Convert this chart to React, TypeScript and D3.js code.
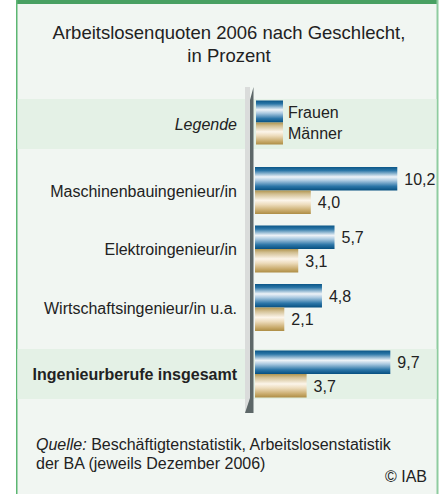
import React, { useEffect, useRef } from 'react'
import * as d3 from 'd3'

const categories = [
  'Maschinenbauingenieur/in',
  'Elektroingenieur/in',
  'Wirtschaftsingenieur/in u.a.',
  'Ingenieurberufe insgesamt',
]
const frauen = [10.2, 5.7, 4.8, 9.7]
const maenner = [4.0, 3.1, 2.1, 3.7]
const seriesNames = ['Frauen', 'Männer']
const legendLabel = 'Legende'
const titleLines = ['Arbeitslosenquoten 2006 nach Geschlecht,', 'in Prozent']

const W = 446
const H = 494
const FONT = '"Liberation Sans", Arial, sans-serif'

export default function App() {
  const ref = useRef<SVGSVGElement>(null)

  useEffect(() => {
    const svg = d3.select(ref.current)
    svg.selectAll('*').remove()

    const rows = [legendLabel, ...categories]
    const total = categories[categories.length - 1]
    const yb = d3.scaleBand<string>().domain(rows).range([108.5, 389.5]).paddingInner(11.5 / 58.5)
    // highlighted rows sit a bit further out
    const rowY = (d: string) => (yb(d) as number) + (d === legendLabel ? -8 : d === total ? 8 : 0)
    const x = d3.scaleLinear().domain([0, 10]).range([255, 394.5])
    const bw = yb.bandwidth()
    const bh = bw / 2

    const defs = svg.append('defs')
    const grads = [
      ['gFrauen', [[0, '#0b5687'], [0.15, '#2b76a7'], [0.42, '#eef3f8'], [0.58, '#a9c8e0'], [0.82, '#2c76a8'], [1, '#064f80']]],
      ['gMaenner', [[0, '#b09550'], [0.15, '#d2bf92'], [0.42, '#fcf5ea'], [0.6, '#eddcbc'], [0.85, '#c9ab6c'], [1, '#ad8d45']]],
    ] as [string, [number, string][]][]
    grads.forEach(([id, stops]) => {
      const g = defs.append('linearGradient').attr('id', id).attr('x1', 0).attr('x2', 0).attr('y1', 0).attr('y2', 1)
      stops.forEach(([o, c]) => g.append('stop').attr('offset', o).attr('stop-color', c))
    })
    const fills = ['url(#gFrauen)', 'url(#gMaenner)']

    // panel
    svg.append('rect').attr('width', W).attr('height', H).attr('fill', '#ffffff')
    svg.append('rect').attr('x', 16).attr('y', 0).attr('width', 422).attr('height', H).attr('fill', '#f1f6f2')
    svg.append('rect').attr('x', 16).attr('y', 0).attr('width', 422).attr('height', 4).attr('fill', '#48a062')
    svg.append('rect').attr('x', 16).attr('y', 0).attr('width', 1.5).attr('height', H).attr('fill', '#5cb672')
    svg.append('rect').attr('x', 436.5).attr('y', 0).attr('width', 2).attr('height', H).attr('fill', '#8fcca0')

    // highlighted rows
    svg.selectAll('rect.hl').data([legendLabel, total]).enter().append('rect')
      .attr('class', 'hl')
      .attr('x', 17.5).attr('width', 419)
      .attr('y', d => rowY(d) + bw / 2 - 25)
      .attr('height', 50)
      .attr('fill', '#e4f1e6')

    // title
    svg.append('text')
      .attr('x', 228).attr('y', 39)
      .attr('text-anchor', 'middle')
      .style('font-family', FONT).style('font-size', '18.5px').attr('fill', '#222')
      .selectAll('tspan').data(titleLines).enter().append('tspan')
      .attr('x', 229).attr('dy', (d, i) => (i === 0 ? 0 : 23))
      .text(d => d)

    // axis divider
    svg.append('rect').attr('x', 245).attr('y', 87).attr('width', 5).attr('height', 326).attr('fill', '#dadcdb')
    svg.append('path')
      .attr('d', 'M250,100 L253.5,87 L253.5,413 L245,413 L250,398 Z')
      .attr('fill', '#5d6768')

    // category labels
    svg.selectAll('text.cat').data(rows).enter().append('text')
      .attr('class', 'cat')
      .attr('x', 237)
      .attr('y', d => rowY(d) + bw / 2 + 6)
      .attr('text-anchor', 'end')
      .style('font-family', FONT).style('font-size', '16px')
      .style('font-style', d => (d === legendLabel ? 'italic' : 'normal'))
      .style('font-weight', d => (d === total ? 'bold' : 'normal'))
      .attr('fill', '#222')
      .text(d => d)

    // legend
    const ly = rowY(legendLabel)
    seriesNames.forEach((name, i) => {
      svg.append('rect')
        .attr('x', 256).attr('y', ly + i * 22).attr('width', 27).attr('height', 22)
        .attr('fill', fills[i])
      svg.append('text')
        .attr('x', 288).attr('y', ly + i * 20.5 + 17.5)
        .style('font-family', FONT).style('font-size', '16px').attr('fill', '#222')
        .text(name)
    })

    // bars
    const series = [frauen, maenner]
    series.forEach((vals, s) => {
      const g = svg.append('g')
      g.selectAll('rect').data(vals).enter().append('rect')
        .attr('x', x(0))
        .attr('y', (d, i) => rowY(categories[i]) + s * bh)
        .attr('width', d => x(d) - x(0))
        .attr('height', bh)
        .attr('fill', fills[s])
      g.selectAll('text').data(vals).enter().append('text')
        .attr('x', d => x(d) + 7)
        .attr('y', (d, i) => rowY(categories[i]) + s * bh + bh / 2 + 6)
        .style('font-family', FONT).style('font-size', '16px').attr('fill', '#222')
        .text(d => d3.format('.1f')(d).replace('.', ','))
    })

    // source
    const src = svg.append('text')
      .attr('x', 36).attr('y', 450)
      .style('font-family', FONT).style('font-size', '16px').attr('fill', '#222')
    src.append('tspan').style('font-style', 'italic').text('Quelle:')
    src.append('tspan').text(' Beschäftigtenstatistik, Arbeitslosenstatistik')
    svg.append('text')
      .attr('x', 36).attr('y', 469)
      .style('font-family', FONT).style('font-size', '16px').attr('fill', '#222')
      .text('der BA (jeweils Dezember 2006)')
    svg.append('text')
      .attr('x', 427).attr('y', 482)
      .attr('text-anchor', 'end')
      .style('font-family', FONT).style('font-size', '16px').attr('fill', '#222')
      .text('© IAB')
  }, [])

  return (
    <svg ref={ref} width={W} height={H} style={{ position: 'absolute', left: 0, top: 0 }} />
  )
}
